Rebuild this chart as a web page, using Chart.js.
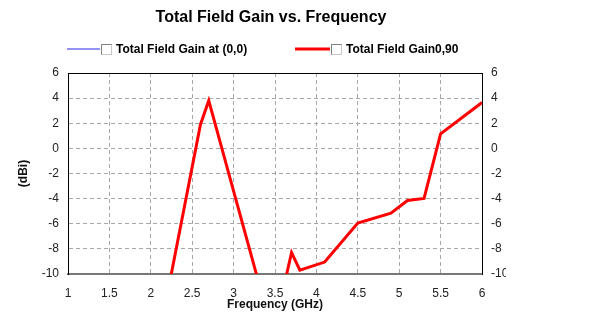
<!DOCTYPE html>
<html>
<head>
<meta charset="utf-8">
<script src="https://cdn.jsdelivr.net/npm/chart.js@4.4.1/dist/chart.umd.min.js"></script>
<style>
  body { margin: 0; background: #fff; width: 615px; height: 333px; overflow: hidden; }
  #wrap { width: 506px; height: 333px; }
</style>
</head>
<body>
<div id="wrap"><canvas id="gain" width="506" height="333"></canvas></div>
<script>
// Gain vs frequency, in GHz / dBi
const freqGHz = [2.2, 2.6, 2.7, 3.0, 3.3, 3.6, 3.7, 3.8, 4.1, 4.5, 4.9, 5.1, 5.3, 5.5, 6.0];
const gain090 = [-11.6, 1.9, 3.8, -3.4, -10.6, -11.2, -8.3, -9.7, -9.05, -5.95, -5.15, -4.15, -3.98, 1.15, 3.65];
// the (0,0) cut never rises above the axis floor
const freq00 = [];
const gain00 = [];

const xTicks = [1, 1.5, 2, 2.5, 3, 3.5, 4, 4.5, 5, 5.5, 6];
const yTicks = [-10, -8, -6, -4, -2, 0, 2, 4, 6];

const seriesNames = ['Total Field Gain at (0,0)', 'Total Field Gain0,90'];
const seriesColors = ['#6f6ff5', '#ff0000'];

const toPoints = (xs, ys) => xs.map((x, i) => ({ x: x, y: ys[i] }));

// title + the old-style legend (line sample, little check box, bold label)
const headerPlugin = {
  id: 'header',
  afterDraw(chart) {
    const ctx = chart.ctx;
    ctx.save();
    ctx.fillStyle = '#000';
    ctx.font = 'bold 16px "Liberation Sans", Arial, sans-serif';
    ctx.textAlign = 'center';
    ctx.textBaseline = 'middle';
    ctx.fillText('Total Field Gain vs. Frequency', 271, 18);

    const items = [{ x: 67, w: 33 }, { x: 295, w: 35 }];
    ctx.font = 'bold 12px "Liberation Sans", Arial, sans-serif';
    ctx.textAlign = 'left';
    items.forEach((it, i) => {
      ctx.strokeStyle = seriesColors[i];
      ctx.lineWidth = i === 0 ? 1.5 : 3;
      ctx.beginPath();
      ctx.moveTo(it.x, 49);
      ctx.lineTo(it.x + it.w, 49);
      ctx.stroke();
      const bx = it.x + it.w + 1;
      ctx.lineWidth = 1;
      ctx.strokeStyle = '#c8c8c8';
      ctx.strokeRect(bx + 0.5, 44.5, 10, 10);
      ctx.strokeStyle = '#808080';
      ctx.beginPath();
      ctx.moveTo(bx + 0.5, 54.5);
      ctx.lineTo(bx + 0.5, 44.5);
      ctx.lineTo(bx + 10.5, 44.5);
      ctx.stroke();
      ctx.fillStyle = '#000';
      ctx.fillText(seriesNames[i], bx + 15, 50);
    });

    // top edge of the plot frame
    const a = chart.chartArea;
    ctx.strokeStyle = '#000';
    ctx.lineWidth = 1;
    ctx.beginPath();
    ctx.moveTo(a.left, a.top + 0.5);
    ctx.lineTo(a.right, a.top + 0.5);
    ctx.stroke();
    ctx.restore();
  }
};

const tickFont = { family: '"Liberation Sans", Arial, sans-serif', size: 12 };
const titleFont = { family: '"Liberation Sans", Arial, sans-serif', size: 12, weight: 'bold' };
const gridStyle = { color: '#a8a8a8', lineWidth: 1, drawTicks: false };

new Chart(document.getElementById('gain'), {
  type: 'line',
  data: {
    datasets: [
      {
        label: seriesNames[0],
        data: toPoints(freq00, gain00),
        borderColor: seriesColors[0],
        borderWidth: 1.5,
        pointRadius: 0,
        yAxisID: 'y'
      },
      {
        label: seriesNames[1],
        data: toPoints(freqGHz, gain090),
        borderColor: seriesColors[1],
        borderWidth: 3,
        pointRadius: 0,
        tension: 0,
        yAxisID: 'y'
      }
    ]
  },
  options: {
    responsive: false,
    animation: false,
    events: [],
    layout: { padding: { top: 73, bottom: 19, left: 0, right: 0 } },
    plugins: {
      legend: { display: false },
      title: { display: false },
      tooltip: { enabled: false }
    },
    scales: {
      x: {
        type: 'linear',
        min: 1,
        max: 6,
        afterBuildTicks: (s) => { s.ticks = xTicks.map(v => ({ value: v })); },
        afterFit: (s) => { s.height = 40; },
        ticks: { font: tickFont, color: '#222', padding: 12, maxRotation: 0, callback: (v) => String(v) },
        grid: gridStyle,
        border: { display: true, color: '#777', width: 2, dash: [4, 3] },
        title: { display: true, text: 'Frequency (GHz)', font: titleFont, color: '#111', padding: { top: 0, bottom: 2 } }
      },
      y: {
        position: 'left',
        min: -10,
        max: 6,
        afterBuildTicks: (s) => { s.ticks = yTicks.map(v => ({ value: v })); },
        afterFit: (s) => { s.width = 68; },
        ticks: { font: tickFont, color: '#222', padding: 9 },
        grid: gridStyle,
        border: { display: true, color: '#000', width: 1, dash: [4, 3] },
        title: { display: true, text: '(dBi)', font: titleFont, color: '#111', padding: { top: 16, bottom: 0 } }
      },
      y2: {
        position: 'right',
        min: -10,
        max: 6,
        afterBuildTicks: (s) => { s.ticks = yTicks.map(v => ({ value: v })); },
        afterFit: (s) => { s.width = 24; },
        ticks: { font: tickFont, color: '#222', padding: 9 },
        grid: { display: false, drawTicks: false },
        border: { display: true, color: '#000', width: 1 }
      }
    }
  },
  plugins: [headerPlugin]
});
</script>
</body>
</html>
